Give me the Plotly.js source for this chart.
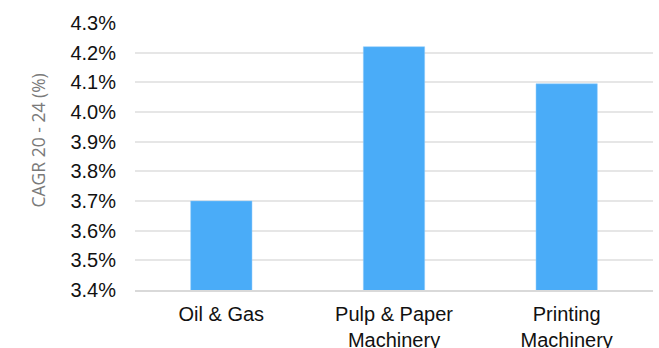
<!DOCTYPE html>
<html>
<head>
<meta charset="utf-8">
<script src="https://cdn.plot.ly/plotly-3.0.1.min.js"></script>
<style>html,body{margin:0;padding:0;background:#fff;}#chart{width:659px;height:348px;}</style>
</head>
<body>
<div id="chart"></div>
<script>
var categories = ["Oil & Gas", "Pulp & Paper<br>Machinery", "Printing<br>Machinery"];
var cagrValues = [3.70, 4.22, 4.095];
var yTickValues = [3.4, 3.5, 3.6, 3.7, 3.8, 3.9, 4.0, 4.1, 4.2, 4.3];
var yAxisTitle = "CAGR 20 - 24 (%)";

var trace = {
  type: "bar",
  x: categories,
  y: cagrValues,
  marker: {color: "#4AACF8", line: {color: "#8CCBFA", width: 0.5}},
  hoverinfo: "skip"
};

var layout = {
  width: 659,
  height: 348,
  margin: {l: 135, r: 6, t: 23, b: 58},
  paper_bgcolor: "#ffffff",
  plot_bgcolor: "#ffffff",
  bargap: 0.645,
  showlegend: false,
  font: {family: "Liberation Sans, Arial, sans-serif", size: 20, color: "#111111"},
  xaxis: {
    type: "category",
    showgrid: false,
    showline: true,
    linecolor: "#d9d9d9",
    linewidth: 2,
    ticks: "",
    tickfont: {size: 20, color: "#111111"},
    ticklabelstandoff: 5
  },
  yaxis: {
    range: [3.4, 4.3],
    tickvals: yTickValues,
    ticktext: yTickValues.map(function(v){ return v.toFixed(1) + "%"; }),
    showgrid: true,
    gridcolor: "#e6e6e6",
    gridwidth: 2,
    zeroline: false,
    showline: false,
    ticks: "",
    ticklabelstandoff: 18,
    tickfont: {size: 20, color: "#111111"}
  },
  annotations: [{
    text: yAxisTitle,
    xref: "paper", yref: "paper",
    x: 0, y: 0.56,
    xanchor: "center", yanchor: "middle",
    xshift: -97,
    textangle: -90,
    showarrow: false,
    font: {family: "Open Sans, sans-serif", size: 17.5, color: "#7a7a7a"}
  }]
};

Plotly.newPlot("chart", [trace], layout, {displayModeBar: false, staticPlot: true});
</script>
</body>
</html>
